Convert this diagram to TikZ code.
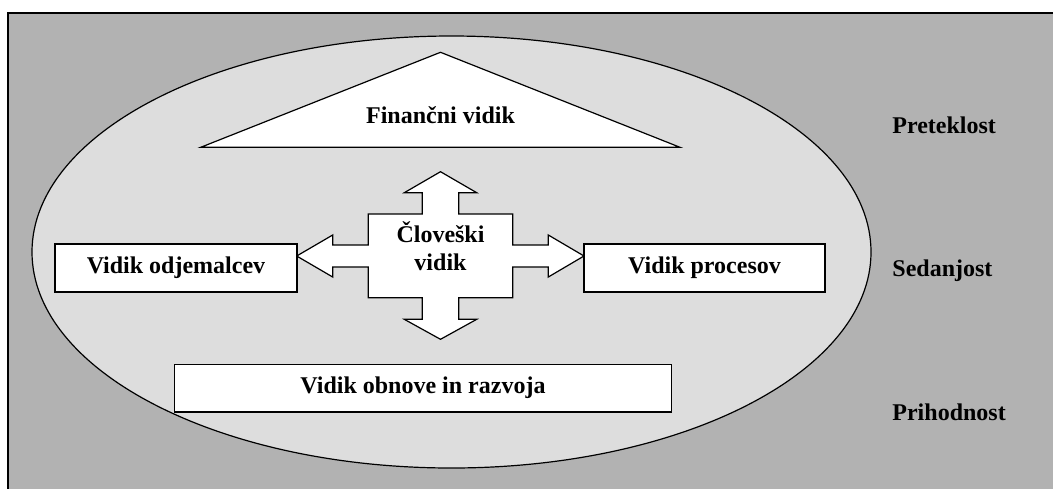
\documentclass[tikz,border=0pt]{standalone}
\usepackage{fontspec}
\setmainfont{Liberation Serif}
\definecolor{frame}{HTML}{B2B2B2}
\definecolor{oval}{HTML}{DDDDDD}
\begin{document}
\begin{tikzpicture}[x=0.5pt, y=-0.5pt,
  every node/.style={font=\fontsize{12}{14}\selectfont\bfseries},
  outline/.style={draw=black, line width=0.6pt},
  viewbox/.style={outline, fill=white, inner sep=0pt},
  era/.style={anchor=base west, inner sep=0pt}]
\useasboundingbox (0,0) rectangle (1053,488);
\clip (0,0) rectangle (1053,488);

% background frame
\draw[outline, fill=frame] (8,13) rectangle (1070,510);

% central oval
\draw[outline, fill=oval] (451.5,252) ellipse [x radius=419.5, y radius=216];

% financial perspective
\draw[outline, fill=white] (440.5,52.3) -- (680,147.3) -- (200.7,147.3) -- cycle;
\node (fin) at (440.5,115.5) {Finančni vidik};

% four-headed arrow around the human perspective
\draw[outline, fill=white]
  (440.5,171.7) -- (476.7,192.7) -- (458.7,192.7) -- (458.7,214)
  -- (512.7,214) -- (512.7,245) -- (548.3,245) -- (548.3,235)
  -- (584,256) -- (548.3,277) -- (548.3,267) -- (512.7,267)
  -- (512.7,297.7) -- (458.7,297.7) -- (458.7,319.3) -- (476.7,319.3)
  -- (440.5,339.3) -- (404.3,319.3) -- (422.3,319.3) -- (422.3,297.7)
  -- (368.3,297.7) -- (368.3,267) -- (332.7,267) -- (332.7,277)
  -- (296.7,256) -- (332.7,235) -- (332.7,245) -- (368.3,245)
  -- (368.3,214) -- (422.3,214) -- (422.3,192.7) -- (404.3,192.7) -- cycle;
\node[align=center] (hum) at (440.5,246) {Človeški\\vidik};

% side and bottom perspectives
\node[viewbox, minimum width=121pt, minimum height=24pt] (cust) at (176,268) {Vidik odjemalcev};
\node[viewbox, minimum width=120.5pt, minimum height=24pt] (proc) at (704.5,268) {Vidik procesov};
\node[viewbox, minimum width=248.7pt, minimum height=23.9pt] (learn) at (423,388) {Vidik obnove in razvoja};

% time labels
\node[era] (past) at (892,133) {Preteklost};
\node[era] (now) at (892,276) {Sedanjost};
\node[era] (future) at (892,420) {Prihodnost};
\end{tikzpicture}
\end{document}
